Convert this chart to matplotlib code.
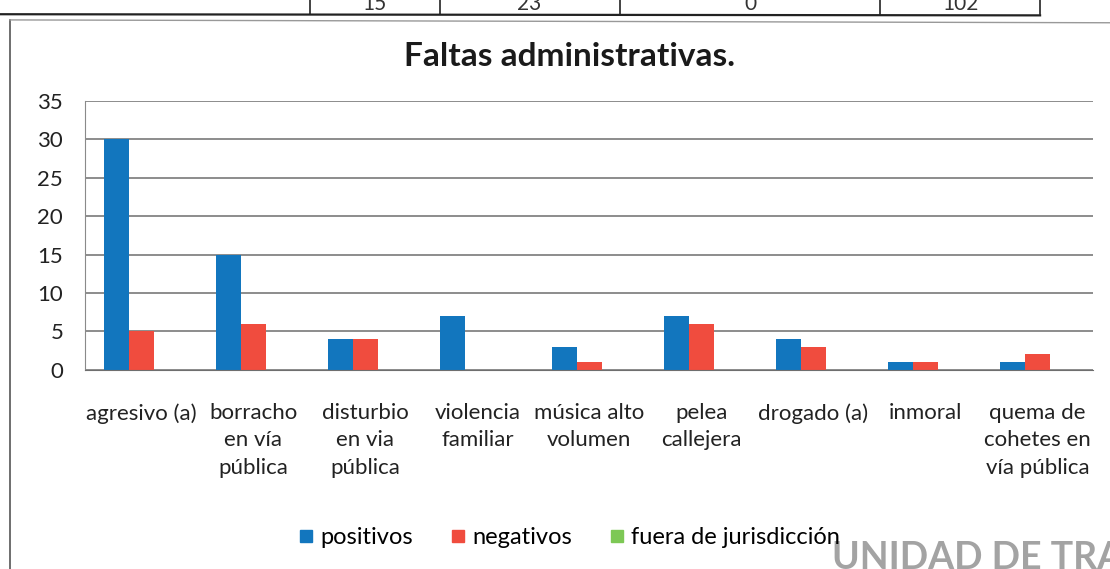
import numpy as np
import matplotlib
matplotlib.use('Agg')
import matplotlib.pyplot as plt
from matplotlib.lines import Line2D

#######################################################################
# Data

categorias = ['agresivo (a)', 'borracho\nen vía\npública', 'disturbio\nen via\npública',
              'violencia\nfamiliar', 'música alto\nvolumen', 'pelea\ncallejera',
              'drogado (a)', 'inmoral', 'quema de\ncohetes en\nvía pública']
positivos = [30, 15, 4, 7, 3, 7, 4, 1, 1]
negativos = [5, 6, 4, 0, 1, 6, 3, 1, 2]
fuera_jur = [0, 0, 0, 0, 0, 0, 0, 0, 0]
yticks = [0, 5, 10, 15, 20, 25, 30, 35]
tabla_vals = ['15', '23', '0', '102']

#######################################################################
# Plotting

plt.rcParams['font.family'] = ['Lato', 'DejaVu Sans']

fig = plt.figure(figsize=(11.1, 5.69), dpi=100)
ax = fig.add_axes([0.077, 0.350, 0.908, 0.4725])

x = np.arange(len(categorias))
w = 0.222
ax.bar(x - w, positivos, w, color='#1276BE', label='positivos')
ax.bar(x, negativos, w, color='#F04C3E', label='negativos')
ax.bar(x + w, fuera_jur, w, color='#7DC855', label='fuera de jurisdicción')

ax.set_xlim(-0.5, len(categorias) - 0.5)
ax.set_ylim(0, 35)
ax.set_yticks(yticks)
ax.yaxis.grid(True, color='#6e6e6e', linewidth=1.1)
ax.set_axisbelow(True)
for side in ['top', 'right']:
    ax.spines[side].set_visible(False)
ax.spines['left'].set_color('#8a8a8a')
ax.spines['bottom'].set_color('#6e6e6e')
ax.tick_params(axis='y', length=0, labelsize=16, pad=16, colors='#222222')
ax.tick_params(axis='x', length=0, labelsize=16, pad=24, colors='#222222')
ax.set_xticks(x)
ax.set_xticklabels(categorias, linespacing=1.45)

fig.text(0.513, 0.900, 'Faltas administrativas.', ha='center', va='center',
         fontsize=24, fontweight='bold', color='#1a1a1a')

# Legend
handles = [Line2D([], [], marker='s', linestyle='none', markersize=9, color=c)
           for c in ['#1276BE', '#F04C3E', '#7DC855']]
fig.legend(handles, ['positivos', 'negativos', 'fuera de jurisdicción'],
           loc='center', bbox_to_anchor=(0.51, 0.055), ncol=3, frameon=False,
           fontsize=17, handletextpad=0.0, columnspacing=1.3, handlelength=1.2)

# Table fragment at the top and chart frame (scanned page)
fig.add_artist(Line2D([0.0, 0.937], [0.975, 0.973], color='#222222', lw=1.6,
                      transform=fig.transFigure))
for xv in [0.279, 0.396, 0.559, 0.793, 0.937]:
    fig.add_artist(Line2D([xv, xv], [0.975, 1.0], color='#222222', lw=1.2,
                          transform=fig.transFigure))
for xv, t in zip([0.337, 0.477, 0.676, 0.865], tabla_vals):
    fig.text(xv, 0.993, t, ha='center', va='center', fontsize=15, color='#333333')
fig.add_artist(Line2D([0.009, 0.009], [0.0, 0.965], color='#555555', lw=1.2,
                      transform=fig.transFigure))
fig.add_artist(Line2D([0.009, 1.0], [0.965, 0.960], color='#999999', lw=1.0,
                      transform=fig.transFigure))

fig.text(0.750, -0.01, 'UNIDAD DE TRANS', ha='left', va='bottom', fontsize=27,
         fontweight='bold', color='#8c8c8c', alpha=0.8)

fig.savefig('out.png', dpi=100)
